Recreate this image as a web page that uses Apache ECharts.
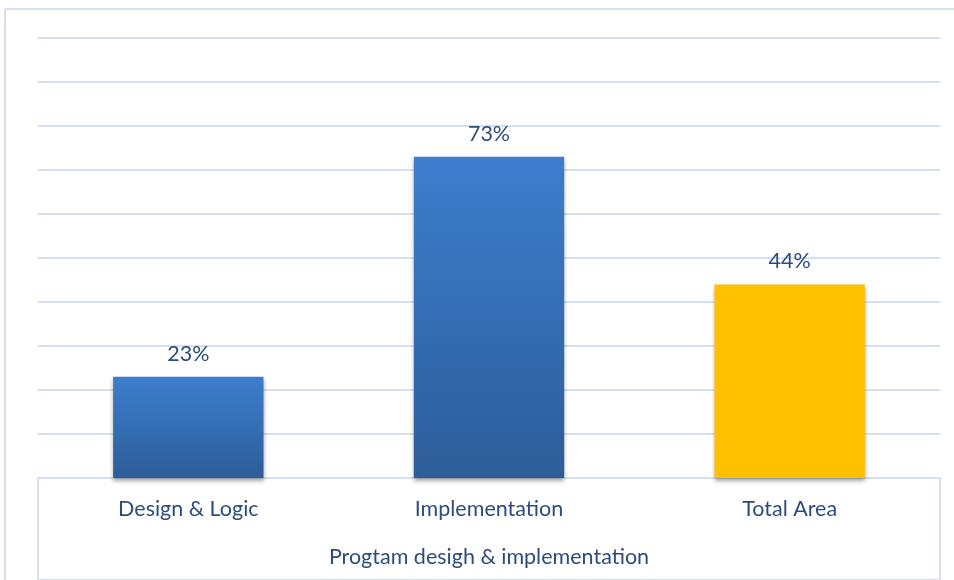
<!DOCTYPE html>
<html><head><meta charset="utf-8">
<script src="https://cdn.jsdelivr.net/npm/echarts@6/dist/echarts.min.js"></script>
<style>html,body{margin:0;padding:0;background:#fff;overflow:hidden}#c{width:954px;height:580px}</style>
</head><body><div id="c"></div>
<script>
const categories = ['Design & Logic', 'Implementation', 'Total Area'];
const values = [23, 73, 44];
const axisName = 'Progtam desigh & implementation';

const blueGrad = new echarts.graphic.LinearGradient(0, 0, 0, 1, [
  {offset: 0, color: '#3D7ECE'}, {offset: 1, color: '#2D5D98'}]);
const barColors = [blueGrad, blueGrad, '#FFC000'];
const textColor = '#2C4D7C';
const lineColor = '#D5E1F2';
const font = 'Lato, "Open Sans", sans-serif';

const chart = echarts.init(document.getElementById('c'));
chart.setOption({
  animation: false,
  backgroundColor: '#fff',
  graphic: [
    {type: 'line', silent: true, z: -10, shape: {x1: 5, y1: 9, x2: 954, y2: 9},
     style: {stroke: lineColor, lineWidth: 2}},
    {type: 'line', silent: true, z: -10, shape: {x1: 5, y1: 9, x2: 5, y2: 580},
     style: {stroke: lineColor, lineWidth: 2}}
  ],
  grid: [
    {left: 38, right: 14, top: 38, bottom: 102},
    {left: 38, right: 14, top: 478, bottom: -40, show: true, borderColor: lineColor, borderWidth: 2, backgroundColor: 'transparent'}
  ],
  xAxis: [
    {type: 'category', data: categories, gridIndex: 0,
     axisLine: {show: true, lineStyle: {color: lineColor, width: 2}},
     axisTick: {show: false},
     axisLabel: {color: textColor, fontSize: 21.5, fontFamily: font, margin: 20},
     name: axisName, nameLocation: 'middle', nameGap: 68,
     nameTextStyle: {color: textColor, fontSize: 21.5, fontFamily: font}},
    {type: 'value', gridIndex: 1, show: false}
  ],
  yAxis: [
    {type: 'value', min: 0, max: 100, interval: 10, gridIndex: 0,
     axisLabel: {show: false}, axisLine: {show: false}, axisTick: {show: false},
     splitLine: {lineStyle: {color: lineColor, width: 2}}},
    {type: 'value', gridIndex: 1, show: false}
  ],
  series: [{
    type: 'bar', xAxisIndex: 0, yAxisIndex: 0,
    barWidth: '50%',
    data: values.map((v, i) => ({value: v, itemStyle: {color: barColors[i]}})),
    itemStyle: {shadowColor: 'rgba(0,0,0,0.35)', shadowBlur: 4, shadowOffsetY: 3},
    label: {show: true, position: 'top', distance: 12, formatter: '{c}%',
      color: textColor, fontSize: 21.5, fontFamily: font}
  }]
});
</script></body></html>
